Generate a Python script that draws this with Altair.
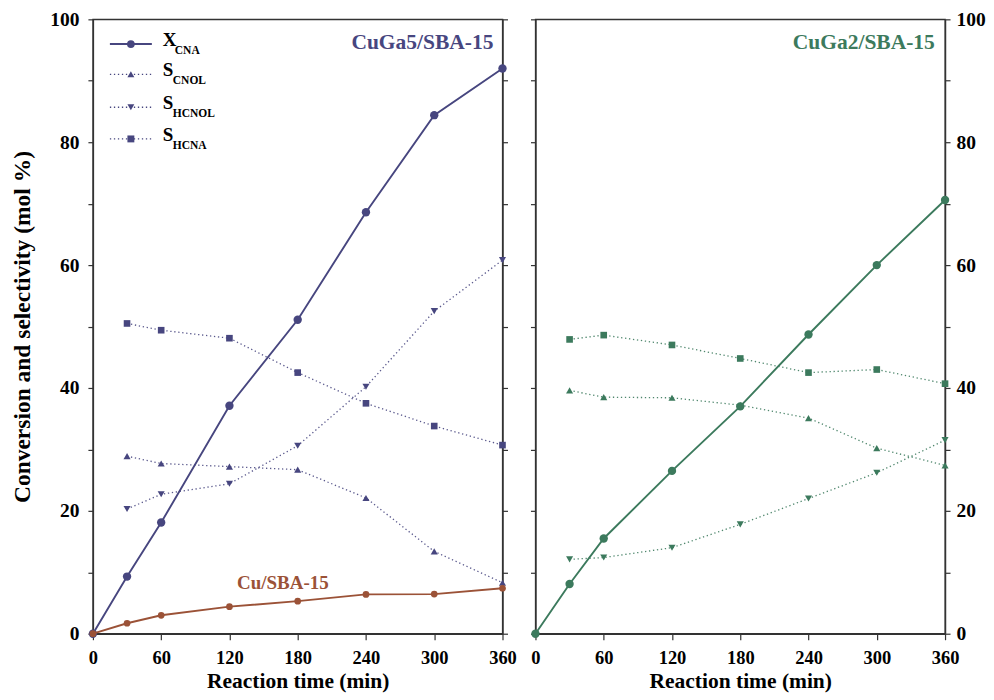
import altair as alt
import pandas as pd

# ---- data ----
time = [0, 30, 60, 120, 180, 240, 300, 360]
time_s = [30, 60, 120, 180, 240, 300, 360]

cuga5_x = [0, 9.3, 18.1, 37.1, 51.1, 68.6, 84.4, 92.0]
cuga5_scnol = [28.9, 27.7, 27.2, 26.7, 22.1, 13.4, 8.3]
cuga5_shcnol = [20.3, 22.7, 24.4, 30.6, 40.2, 52.5, 60.8]
cuga5_shcna = [50.5, 49.4, 48.1, 42.5, 37.5, 33.8, 30.7]
cu_x = [0, 1.7, 3.0, 4.4, 5.3, 6.4, 6.45, 7.4]

cuga2_x = [0, 8.1, 15.5, 26.5, 37.0, 48.7, 60.0, 70.6]
cuga2_scnol = [39.6, 38.5, 38.4, 37.2, 35.1, 30.2, 27.4]
cuga2_shcnol = [12.1, 12.4, 14.0, 17.8, 22.0, 26.2, 31.5]
cuga2_shcna = [47.9, 48.6, 47.0, 44.8, 42.5, 43.0, 40.7]

x_ticks = [0, 60, 120, 180, 240, 300, 360]
y_ticks = list(range(0, 101, 10))

NAVY = "#47467f"
BROWN = "#9b5237"
GREEN = "#3c7a5d"
FONT = "Liberation Serif"

W, H = 410, 615

x_axis = alt.Axis(values=x_ticks, title="Reaction time (min)", grid=False,
                  tickSize=6, labelPadding=9, titlePadding=3.5, labelFlush=False,
                  titleFontSize=21.5, labelFontSize=18.5)
x_enc = alt.X("t:Q", scale=alt.Scale(domain=[0, 360], nice=False), axis=x_axis)


def y_enc(axis):
    return alt.Y("v:Q", scale=alt.Scale(domain=[0, 100], nice=False), axis=axis)


label_expr = "datum.value % 20 == 0 ? datum.label : ''"


def series(t, v, color, shape, size, dotted, line_axis, pt_axis):
    df = pd.DataFrame({"t": t, "v": v})
    base = alt.Chart(df)
    if dotted:
        line = base.mark_line(color=color, strokeWidth=1.3, strokeDash=[1.3, 2.7], opacity=0.9)
    else:
        line = base.mark_line(color=color, strokeWidth=1.9)
    pts = base.mark_point(filled=True, shape=shape, size=size, color=color, opacity=1)
    return [line.encode(x=x_enc, y=y_enc(line_axis)),
            pts.encode(x=x_enc, y=y_enc(pt_axis))]


one = pd.DataFrame({"k": [0]})


def legend_layers(color):
    rows = [("X", "CNA", "circle", False, 24.7, 12),
            ("S", "CNOL", "triangle-up", True, 55, 10),
            ("S", "HCNOL", "triangle-down", True, 88, 10),
            ("S", "HCNA", "square", True, 119.7, 10)]
    out = []
    for main, sub, shape, dotted, ry, subdx in rows:
        b = alt.Chart(one)
        if dotted:
            rl = b.mark_rule(color=color, strokeWidth=1.3, strokeDash=[1.3, 2.7])
        else:
            rl = b.mark_rule(color=color, strokeWidth=1.9)
        out.append(rl.encode(x=alt.value(17), x2=alt.value(59), y=alt.value(ry)))
        out.append(b.mark_point(filled=True, shape=shape, size=(60 if shape == "circle" else 48),
                                color=color, opacity=1)
                   .encode(x=alt.value(38), y=alt.value(ry)))
        out.append(b.mark_text(align="left", baseline="middle", font=FONT, fontWeight="bold",
                               fontSize=19, color="black")
                   .encode(x=alt.value(70), y=alt.value(ry - 4), text=alt.value(main)))
        out.append(b.mark_text(align="left", baseline="middle", font=FONT, fontWeight="bold",
                               fontSize=11.5, color="black")
                   .encode(x=alt.value(70 + subdx), y=alt.value(ry + 7), text=alt.value(sub)))
    return out


def annot(text, x, y, color, size, align):
    return alt.Chart(one).mark_text(text=text, align=align, baseline="middle", font=FONT,
                                    fontWeight="bold", fontSize=size, color=color).encode(
        x=alt.X(datum=x, type="quantitative", scale=alt.Scale(domain=[0, 360], nice=False), axis=x_axis),
        y=alt.Y(datum=y, type="quantitative", scale=alt.Scale(domain=[0, 100], nice=False), axis=None))


# ---- left panel ----
left_y_axis = alt.Axis(orient="left", values=y_ticks, labelExpr=label_expr, grid=False,
                       title="Conversion and selectivity (mol %)", titleFontSize=23.5,
                       tickSize=5, labelPadding=9, titlePadding=15, labelFontSize=19.5)
left_right_axis = alt.Axis(orient="right", values=y_ticks, labels=False, grid=False,
                           title=None, tickSize=5)

left_layers = []
left_layers += series(time, cuga5_x, NAVY, "circle", 70, False, left_y_axis, left_right_axis)
left_layers += series(time_s, cuga5_scnol, NAVY, "triangle-up", 50, True, None, None)
left_layers += series(time_s, cuga5_shcnol, NAVY, "triangle-down", 50, True, None, None)
left_layers += series(time_s, cuga5_shcna, NAVY, "square", 44, True, None, None)
left_layers += series(time, cu_x, BROWN, "circle", 45, False, None, None)
left_layers.append(annot("CuGa5/SBA-15", 352, 96.1, NAVY, 21.5, "right"))
left_layers.append(annot("Cu/SBA-15", 167, 8.2, BROWN, 19, "center"))
left_layers += legend_layers(NAVY)

left = alt.layer(*left_layers).properties(width=W, height=H).resolve_axis(y="independent")

# ---- right panel ----
right_left_axis = alt.Axis(orient="left", values=y_ticks, labels=False, grid=False,
                           title=None, tickSize=5)
right_y_axis = alt.Axis(orient="right", values=y_ticks, labelExpr=label_expr, grid=False,
                        title=None, tickSize=5, labelPadding=6, labelFontSize=19.5)

right_layers = []
right_layers += series(time, cuga2_x, GREEN, "circle", 70, False, right_left_axis, right_y_axis)
right_layers += series(time_s, cuga2_scnol, GREEN, "triangle-up", 50, True, None, None)
right_layers += series(time_s, cuga2_shcnol, GREEN, "triangle-down", 50, True, None, None)
right_layers += series(time_s, cuga2_shcna, GREEN, "square", 44, True, None, None)
right_layers.append(annot("CuGa2/SBA-15", 351, 96.1, GREEN, 21.5, "right"))

right = alt.layer(*right_layers).properties(width=W, height=H).resolve_axis(y="independent")

chart = alt.hconcat(left, right, spacing=33, bounds="flush").properties(
    padding={"left": 2, "top": 0, "right": 0, "bottom": 0}
).configure_view(
    stroke="#333333", strokeWidth=1.4
).configure_axis(
    labelFont=FONT, titleFont=FONT, labelFontWeight="bold", titleFontWeight="bold",
    labelColor="black", titleColor="black", domainColor="#333333", tickColor="#333333",
    domainWidth=1.4, tickWidth=1.2
)

chart.save("out.html", embed_options={"renderer": "svg", "actions": False})
